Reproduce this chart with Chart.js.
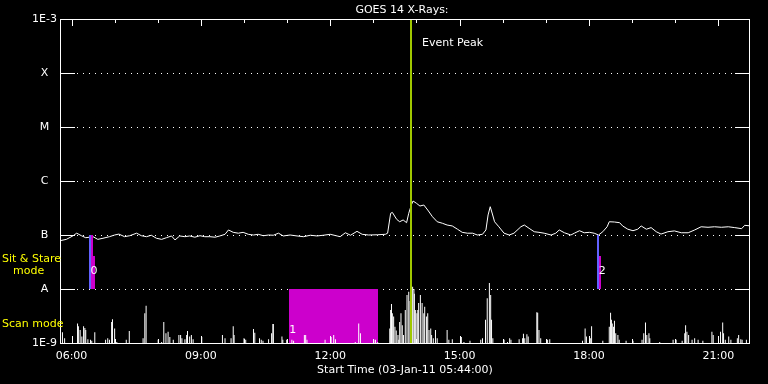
<!DOCTYPE html>
<html>
<head>
<meta charset="utf-8">
<title>GOES 14 X-Rays</title>
<script src="https://cdn.jsdelivr.net/npm/chart.js@4.4.1/dist/chart.umd.min.js"></script>
<style>
    html, body { margin: 0; padding: 0; background: #000; }
    #wrap { width: 768px; height: 384px; }
</style>
</head>
<body>
<div id="wrap"><canvas id="goes" width="768" height="384"></canvas></div>
<script>
// GOES 1-8 A flux, in units of 1e-7 W/m^2 (B1 = 1.0), decimal hours UT
const goesHours = [
    5.72, 5.88, 6.03, 6.12, 6.23, 6.33, 6.50, 6.61, 6.73, 6.88,
    7.00, 7.10, 7.23, 7.35, 7.51, 7.62, 7.74, 7.85, 7.97, 8.09,
    8.20, 8.32, 8.40, 8.51, 8.63, 8.74, 8.86, 8.98, 9.09, 9.21,
    9.33, 9.44, 9.56, 9.64, 9.75, 9.87, 9.98, 10.10, 10.22, 10.33,
    10.45, 10.57, 10.68, 10.80, 10.91, 11.07, 11.23, 11.38, 11.54, 11.69,
    11.84, 12.00, 12.16, 12.23, 12.35, 12.47, 12.62, 12.74, 12.89, 13.09,
    13.28, 13.33, 13.40, 13.44, 13.54, 13.61, 13.69, 13.77, 13.82, 13.88,
    13.92, 14.00, 14.08, 14.17, 14.26, 14.37, 14.48, 14.60, 14.71, 14.83,
    14.95, 15.06, 15.18, 15.30, 15.41, 15.53, 15.61, 15.66, 15.71, 15.76,
    15.81, 15.91, 16.03, 16.15, 16.26, 16.42, 16.50, 16.61, 16.73, 16.84,
    16.96, 17.12, 17.23, 17.31, 17.43, 17.58, 17.66, 17.78, 17.89, 18.01,
    18.12, 18.22, 18.32, 18.42, 18.47, 18.59, 18.71, 18.78, 18.90, 19.02,
    19.13, 19.21, 19.33, 19.44, 19.56, 19.67, 19.83, 19.98, 20.14, 20.30,
    20.45, 20.60, 20.76, 20.91, 21.07, 21.23, 21.38, 21.54, 21.61, 21.77
];
const goesFluxB = [
    0.78, 0.83, 0.96, 1.08, 0.97, 0.89, 0.93, 0.83, 0.87, 0.93,
    1.00, 1.04, 0.93, 0.97, 1.08, 0.97, 0.93, 0.99, 0.87, 0.83,
    0.89, 0.96, 0.81, 0.96, 0.93, 0.96, 0.91, 0.97, 0.93, 0.93,
    0.91, 0.96, 1.03, 1.24, 1.12, 1.08, 1.12, 1.03, 1.00, 1.03,
    0.97, 1.00, 0.99, 1.08, 0.96, 1.00, 0.96, 0.93, 0.99, 0.96,
    0.99, 1.03, 0.96, 0.93, 1.10, 0.99, 1.17, 1.03, 1.00, 1.01,
    1.03, 1.08, 2.52, 2.62, 1.95, 1.76, 1.90, 1.69, 2.52, 3.59,
    4.26, 3.86, 3.44, 3.59, 2.90, 2.18, 1.76, 1.65, 1.53, 1.47,
    1.28, 1.12, 1.08, 1.08, 1.00, 1.03, 1.24, 2.35, 3.34, 2.45,
    1.76, 1.42, 1.08, 1.00, 1.08, 1.42, 1.53, 1.33, 1.15, 1.12,
    1.08, 1.00, 1.08, 1.24, 1.10, 1.00, 1.08, 1.20, 1.10, 1.12,
    1.08, 1.00, 1.15, 1.42, 1.76, 1.74, 1.69, 1.47, 1.28, 1.20,
    1.28, 1.47, 1.28, 1.37, 1.15, 1.04, 1.15, 1.19, 1.10, 1.10,
    1.24, 1.42, 1.39, 1.42, 1.39, 1.42, 1.37, 1.31, 1.51, 1.47
];

// Scan mode trace, heights in decades above the 1E-9 floor
const scanHours = [
    5.79, 5.84, 6.14, 6.16, 6.20, 6.24, 6.28, 6.31, 6.33, 6.38,
    6.44, 6.47, 6.54, 6.79, 6.84, 6.88, 6.93, 6.95, 7.00, 7.05,
    7.27, 7.34, 7.66, 7.70, 7.73, 8.01, 8.09, 8.14, 8.19, 8.24,
    8.28, 8.36, 8.49, 8.53, 8.56, 8.63, 8.67, 8.69, 8.74, 8.78,
    8.82, 9.02, 9.50, 9.56, 9.70, 9.75, 9.77, 10.00, 10.04, 10.22,
    10.25, 10.36, 10.40, 10.44, 10.57, 10.64, 10.67, 10.68, 10.88, 10.90,
    10.99, 11.11, 11.15, 11.40, 11.43, 11.46, 11.88, 12.02, 12.08, 12.12,
    12.58, 12.66, 12.70, 13.01, 13.05, 13.10, 13.38, 13.40, 13.42, 13.44,
    13.47, 13.50, 13.53, 13.57, 13.59, 13.61, 13.64, 13.67, 13.70, 13.74,
    13.78, 13.82, 13.85, 13.88, 13.91, 13.94, 13.95, 13.98, 14.01, 14.03,
    14.05, 14.09, 14.13, 14.17, 14.19, 14.23, 14.26, 14.29, 14.33, 14.35,
    14.39, 14.44, 14.48, 14.71, 14.75, 14.83, 15.04, 15.10, 15.24, 15.49,
    15.53, 15.60, 15.64, 15.69, 15.72, 15.74, 15.77, 16.03, 16.11, 16.16,
    16.19, 16.38, 16.46, 16.48, 16.51, 16.56, 16.59, 16.79, 16.81, 16.84,
    16.88, 17.04, 17.09, 17.85, 17.91, 17.94, 18.03, 18.06, 18.32, 18.47,
    18.50, 18.52, 18.54, 18.57, 18.59, 18.62, 18.67, 18.70, 18.86, 19.02,
    19.23, 19.27, 19.31, 19.34, 19.39, 19.41, 19.64, 19.95, 20.02, 20.16,
    20.22, 20.24, 20.27, 20.31, 20.39, 20.45, 20.53, 20.64, 20.85, 20.88,
    21.05, 21.10, 21.12, 21.16, 21.24, 21.29, 21.44, 21.47, 21.52, 21.55,
    21.65, 21.73
];
const scanLevel = [
    0.20, 0.09, 0.36, 0.31, 0.24, 0.12, 0.31, 0.28, 0.24, 0.07,
    0.06, 0.04, 0.20, 0.06, 0.09, 0.06, 0.39, 0.44, 0.27, 0.02,
    0.06, 0.22, 0.09, 0.55, 0.69, 0.06, 0.02, 0.39, 0.18, 0.21,
    0.11, 0.06, 0.15, 0.15, 0.09, 0.07, 0.15, 0.22, 0.12, 0.15,
    0.07, 0.11, 0.15, 0.09, 0.09, 0.31, 0.15, 0.09, 0.06, 0.26,
    0.19, 0.09, 0.06, 0.04, 0.07, 0.18, 0.35, 0.35, 0.12, 0.06,
    0.06, 0.06, 0.04, 0.15, 0.15, 0.06, 0.06, 0.11, 0.15, 0.07,
    0.02, 0.36, 0.18, 0.06, 0.06, 0.02, 0.27, 0.61, 0.72, 0.55,
    0.49, 0.30, 0.23, 0.15, 0.06, 0.39, 0.55, 0.33, 0.15, 0.61,
    0.89, 0.95, 0.78, 0.98, 1.04, 1.00, 0.91, 0.61, 0.55, 0.61,
    0.74, 0.89, 0.74, 0.55, 0.67, 0.49, 0.55, 0.24, 0.27, 0.15,
    0.09, 0.24, 0.09, 0.24, 0.06, 0.07, 0.11, 0.02, 0.04, 0.06,
    0.09, 0.43, 0.83, 1.11, 0.89, 0.43, 0.09, 0.06, 0.02, 0.09,
    0.06, 0.07, 0.09, 0.17, 0.09, 0.16, 0.12, 0.57, 0.56, 0.24,
    0.09, 0.06, 0.07, 0.04, 0.27, 0.12, 0.09, 0.31, 0.04, 0.30,
    0.56, 0.43, 0.36, 0.30, 0.41, 0.18, 0.15, 0.06, 0.04, 0.04,
    0.06, 0.18, 0.38, 0.15, 0.18, 0.09, 0.02, 0.06, 0.06, 0.04,
    0.18, 0.33, 0.21, 0.15, 0.06, 0.09, 0.06, 0.04, 0.21, 0.15,
    0.21, 0.38, 0.18, 0.06, 0.12, 0.06, 0.09, 0.15, 0.07, 0.06,
    0.06, 0.04
];

// observing mode boxes (hours, flux limits) - 'edge' is the blue start marker
const modeBoxKind = ['edge', 'fill', 'fill', 'fill', 'edge', 'fill'];
const modeBoxStart = [6.41, 6.45, 6.51, 11.04, 18.19, 18.24];
const modeBoxEnd = [6.45, 6.51, 6.55, 13.10, 18.24, 18.28];
const modeBoxLow = [1e-8, 1e-8, 1e-8, 1e-9, 1e-8, 1e-8];
const modeBoxHigh = [1e-7, 1e-7, 4.1e-8, 1e-8, 1e-7, 4.1e-8];

const modeIds = ['0', '1', '2'];
const modeIdHours = [6.52, 11.13, 18.31];
const modeIdFlux = [2.1e-8, 1.7e-9, 2.1e-8];

const eventPeakHour = 13.87;
const yTickLabels = ['1E-9', 'A', 'B', 'C', 'M', 'X', '1E-3'];
const xTickHours = [6, 9, 12, 15, 18, 21];
const xStartHour = 5 + 44 / 60;
const xEndHour = 21 + 44 / 60;

const FONT = '"DejaVu Sans", sans-serif';
const MAGENTA = '#cc00cc';
const BLUE = '#6262ff';
const PEAK_GREEN = '#a0c800';

Chart.defaults.font.family = FONT;
Chart.defaults.font.size = 11;
Chart.defaults.color = '#ffffff';

const goesPoints = goesHours.map((h, i) => ({ x: h, y: goesFluxB[i] * 1e-7 }));
const scanPoints = scanHours.map((h, i) => ({ x: h, y: scanLevel[i] }));

function crisp(v) {
    return Math.round(v) + 0.5;
}

const frameAndOverlay = {
    id: 'frameAndOverlay',
    beforeDatasetsDraw(chart) {
        const { ctx, chartArea: a, scales: { y } } = chart;
        ctx.save();
        ctx.strokeStyle = '#ffffff';
        ctx.lineWidth = 1;
        ctx.setLineDash([1, 5]);
        for (let i = 1; i < yTickLabels.length - 1; i++) {
            const py = crisp(y.getPixelForValue(Math.pow(10, -9 + i)));
            ctx.beginPath();
            ctx.moveTo(a.left + 17, py);
            ctx.lineTo(a.right - 15, py);
            ctx.stroke();
        }
        ctx.restore();
    },
    beforeDatasetDraw(chart, args) {
        if (args.index !== 1) {
            return;
        }
        const { ctx, scales: { x, y } } = chart;
        ctx.save();
        modeBoxKind.forEach((kind, i) => {
            const x0 = Math.round(x.getPixelForValue(modeBoxStart[i]));
            const x1 = Math.round(x.getPixelForValue(modeBoxEnd[i]));
            const y0 = Math.round(y.getPixelForValue(modeBoxHigh[i]));
            const y1 = Math.round(y.getPixelForValue(modeBoxLow[i]));
            ctx.fillStyle = kind === 'edge' ? BLUE : MAGENTA;
            ctx.fillRect(x0, y0, Math.max(1, x1 - x0), y1 - y0);
        });
        ctx.restore();
    },
    afterDatasetsDraw(chart) {
        const { ctx, chartArea: a, scales: { x, y } } = chart;
        ctx.save();

        // event peak marker
        const px = Math.round(x.getPixelForValue(eventPeakHour));
        ctx.fillStyle = PEAK_GREEN;
        ctx.fillRect(px - 1, a.top, 2, a.bottom - a.top);

        // frame
        ctx.strokeStyle = '#ffffff';
        ctx.lineWidth = 1;
        ctx.strokeRect(a.left + 0.5, a.top + 0.5, a.right - a.left - 1, a.bottom - a.top);

        // y ticks, both sides
        ctx.beginPath();
        for (let i = 0; i < yTickLabels.length; i++) {
            const py = crisp(y.getPixelForValue(Math.pow(10, -9 + i)));
            ctx.moveTo(a.left, py);
            ctx.lineTo(a.left + 15, py);
            ctx.moveTo(a.right - 15, py);
            ctx.lineTo(a.right, py);
        }
        // hourly x ticks, top and bottom
        for (let h = 6; h <= 21; h++) {
            const tx = crisp(x.getPixelForValue(h));
            const len = h % 3 === 0 ? 7 : 4;
            ctx.moveTo(tx, a.top);
            ctx.lineTo(tx, a.top + len);
            ctx.moveTo(tx, a.bottom);
            ctx.lineTo(tx, a.bottom - len);
        }
        ctx.stroke();

        ctx.font = '11px ' + FONT;
        ctx.textBaseline = 'middle';
        ctx.fillStyle = '#ffffff';
        ctx.textAlign = 'center';
        ctx.fillText('GOES 14 X-Rays:', 402, 10);
        modeIds.forEach((id, i) => {
            ctx.fillText(id, x.getPixelForValue(modeIdHours[i]), y.getPixelForValue(modeIdFlux[i]));
        });
        ctx.textAlign = 'left';
        ctx.fillText('Event Peak', px + 11, a.top + 24);

        ctx.fillStyle = '#ffff00';
        ctx.fillText('Sit & Stare', 2, 259);
        ctx.fillText('mode', 13, 271);
        ctx.fillText('Scan mode', 2, 324);
        ctx.restore();
    }
};

new Chart(document.getElementById('goes'), {
    type: 'line',
    data: {
        datasets: [
            {
                label: 'GOES 14',
                data: goesPoints,
                borderColor: '#ffffff',
                borderWidth: 1,
                pointRadius: 0,
                tension: 0,
                yAxisID: 'y',
                order: 2
            },
            {
                type: 'bar',
                label: 'Scan mode',
                data: scanPoints,
                backgroundColor: '#ffffff',
                borderWidth: 0,
                inflateAmount: 0,
                barThickness: 1,
                grouped: false,
                yAxisID: 'yScan',
                order: 1
            }
        ]
    },
    options: {
        responsive: false,
        devicePixelRatio: 1,
        animation: false,
        layout: { padding: { top: 19, right: 18, left: 0, bottom: 0 } },
        plugins: {
            legend: { display: false },
            tooltip: { enabled: false }
        },
        scales: {
            x: {
                type: 'linear',
                offset: false,
                min: xStartHour,
                max: xEndHour,
                grid: { display: false, drawTicks: false },
                border: { display: false },
                afterBuildTicks(scale) {
                    scale.ticks = xTickHours.map((v) => ({ value: v }));
                },
                afterFit(scale) {
                    scale.height = 41;
                },
                ticks: {
                    autoSkip: false,
                    maxRotation: 0,
                    padding: 7,
                    color: '#ffffff',
                    callback: (v) => String(v).padStart(2, '0') + ':00'
                },
                title: {
                    display: true,
                    text: 'Start Time (03-Jan-11 05:44:00)',
                    color: '#ffffff',
                    padding: { top: 0, bottom: 7 }
                }
            },
            y: {
                type: 'logarithmic',
                min: 1e-9,
                max: 1e-3,
                grid: { display: false, drawTicks: false },
                border: { display: false },
                afterBuildTicks(scale) {
                    scale.ticks = yTickLabels.map((_, i) => ({ value: Math.pow(10, -9 + i) }));
                },
                afterFit(scale) {
                    scale.width = 60;
                },
                ticks: {
                    autoSkip: false,
                    crossAlign: 'center',
                    padding: 3,
                    color: '#ffffff',
                    callback: (v) => yTickLabels[Math.round(Math.log10(v)) + 9]
                }
            },
            yScan: {
                type: 'linear',
                display: false,
                min: 0,
                max: 6
            }
        }
    },
    plugins: [frameAndOverlay]
});
</script>
</body>
</html>
